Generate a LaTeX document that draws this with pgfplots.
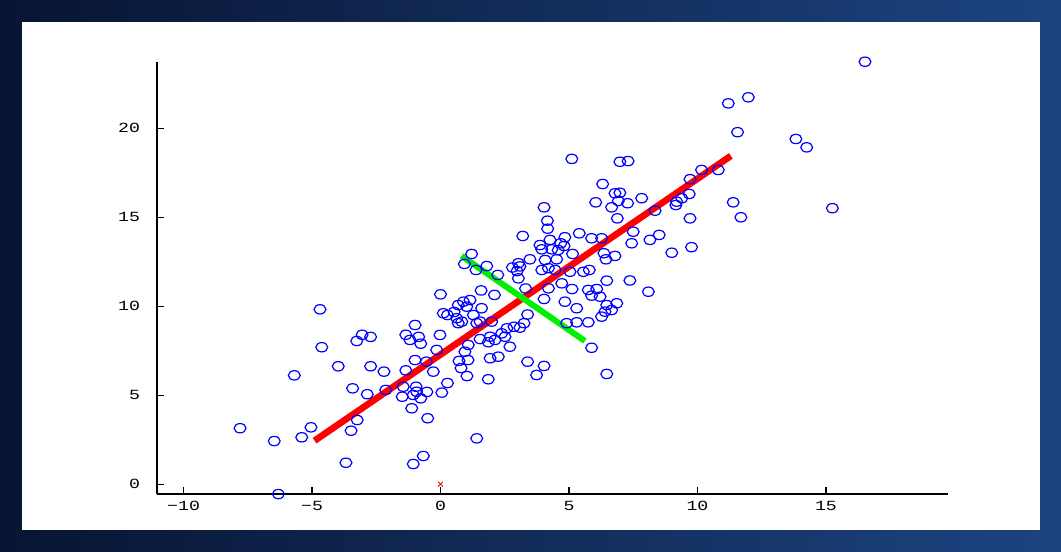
\documentclass[border=0pt]{standalone}
\usepackage{fontspec}
\setmainfont{Liberation Sans}
\newfontfamily\monofont{Liberation Mono}
\usepackage{pgfplots}
\usepackage{pgfplotstable}
\pgfplotsset{compat=1.18}
\definecolor{bgdark}{RGB}{8,20,50}
\definecolor{bglight}{RGB}{28,68,128}
\definecolor{ptblue}{RGB}{0,0,255}
\definecolor{lnred}{RGB}{255,0,0}
\definecolor{lngreen}{RGB}{0,240,0}
\pgfplotstableread{
x y
-4.69 9.83
-0.99 8.95
-3.05 8.40
-3.26 8.05
-2.72 8.28
-1.35 8.40
-1.19 8.11
-0.85 8.28
-0.77 7.90
-4.62 7.70
-3.98 6.63
-2.72 6.63
-2.20 6.33
-0.99 6.98
-0.55 6.89
-1.35 6.40
-5.69 6.12
-3.42 5.39
-2.85 5.06
-2.13 5.30
-1.45 5.48
-0.95 5.48
-0.93 5.20
-1.06 5.02
-1.49 4.92
-0.77 4.83
-0.53 5.19
-1.12 4.27
-0.50 3.71
-3.24 3.61
-3.48 3.01
-7.80 3.15
-5.04 3.20
-5.40 2.64
-6.47 2.43
-3.68 1.21
-1.06 1.14
-0.67 1.59
-6.31 -0.55
5.11 18.28
6.98 18.12
7.30 18.16
6.31 16.87
6.79 16.35
6.98 16.38
6.04 15.84
6.92 15.92
6.66 15.56
4.03 15.56
4.16 14.81
6.88 14.94
4.17 14.36
5.40 14.10
4.84 13.88
4.26 13.73
5.88 13.82
6.27 13.82
3.20 13.95
3.87 13.44
3.94 13.20
4.68 13.54
4.81 13.39
4.33 13.20
4.58 13.16
5.14 12.94
6.36 12.98
6.79 12.83
6.44 12.64
1.21 12.94
3.48 12.64
4.07 12.60
4.52 12.64
3.03 12.42
10.16 17.66
10.81 17.66
9.71 17.14
7.83 16.07
7.28 15.79
9.19 15.88
9.39 16.07
9.68 16.31
9.16 15.69
8.35 15.37
9.71 14.94
7.50 14.19
7.44 13.54
8.15 13.73
8.51 14.01
9.00 13.01
9.77 13.32
0.93 12.38
1.80 12.26
1.38 12.04
2.80 12.18
3.09 12.24
2.98 11.98
2.23 11.76
3.03 11.57
1.58 10.89
2.10 10.64
0.00 10.67
3.31 11.00
0.89 10.26
1.15 10.35
0.69 10.07
1.02 9.98
0.11 9.61
0.27 9.51
0.53 9.68
0.63 9.33
0.83 9.14
0.69 9.05
1.28 9.51
1.60 9.89
1.41 9.05
1.54 9.14
1.99 9.14
3.39 9.54
2.58 8.76
2.86 8.85
3.09 8.80
3.25 9.05
2.38 8.48
2.51 8.29
1.93 8.29
2.12 8.11
1.86 7.98
1.54 8.16
-0.02 8.39
1.08 7.83
0.95 7.45
2.25 7.17
1.93 7.08
2.70 7.73
3.39 6.89
0.72 6.93
1.07 6.98
0.80 6.53
1.03 6.08
-0.15 7.55
-0.28 6.33
4.20 12.14
4.46 12.04
3.94 12.04
5.04 11.94
5.56 11.94
5.79 12.04
6.47 11.44
7.37 11.45
8.09 10.82
4.20 11.01
4.72 11.29
5.12 10.97
5.75 10.92
6.08 10.97
5.88 10.60
6.21 10.54
4.03 10.41
4.84 10.26
5.30 9.89
6.47 10.07
6.86 10.17
6.66 9.79
6.40 9.70
6.27 9.42
5.75 9.10
5.30 9.10
4.91 9.05
5.88 7.67
4.03 6.65
3.74 6.14
6.47 6.20
0.27 5.69
0.05 5.15
1.41 2.58
1.86 5.90
16.52 23.74
11.20 21.40
11.98 21.74
11.56 19.78
13.83 19.40
14.25 18.93
11.39 15.84
11.69 15.00
15.25 15.51
}\pointdata
\begin{document}
\begin{tikzpicture}[x=0.75pt,y=0.75pt]
\useasboundingbox (0,0) rectangle (1061,552);
\shade[left color=bgdark, right color=bglight] (0,0) rectangle (1061,552);
\fill[white] (22,22) rectangle (1040,530);
\begin{axis}[
  at={(118pt,43.5pt)}, anchor=south west,
  scale only axis, width=593pt, height=324.2pt,
  xmin=-11.02, xmax=19.75, ymin=-0.545, ymax=23.74,
  axis lines*=left,
  axis line style={line width=1.3pt, black},
  tick style={line width=0.9pt, black},
  major tick length=5pt, tick align=inside,
  xtick={-10,-5,0,5,10,15},
  xticklabels={−10,−5,0,5,10,15},
  ytick={0,5,10,15,20},
  /pgf/number format/assume math mode=true,
  ticklabel style={font=\monofont\fontsize{10.5}{12}\selectfont, black, xscale=1.3},
  yticklabel style={xshift=-6.5pt},
  xticklabel style={yshift=-2pt},
  clip=false,
]
\addplot[only marks, mark=o, ptblue, mark size=3.5pt,
  mark options={xscale=1.27, line width=0.9pt}] table[x=x,y=y] {\pointdata};
\addplot[lnred, line width=5pt] coordinates {(-4.90,2.45) (11.30,18.45)};
\addplot[lngreen, line width=4.5pt] coordinates {(0.82,12.83) (5.62,8.05)};
\addplot[only marks, mark=x, lnred, mark size=2.5pt, mark options={line width=0.6pt}] coordinates {(0,0)};
\end{axis}
\end{tikzpicture}
\end{document}
